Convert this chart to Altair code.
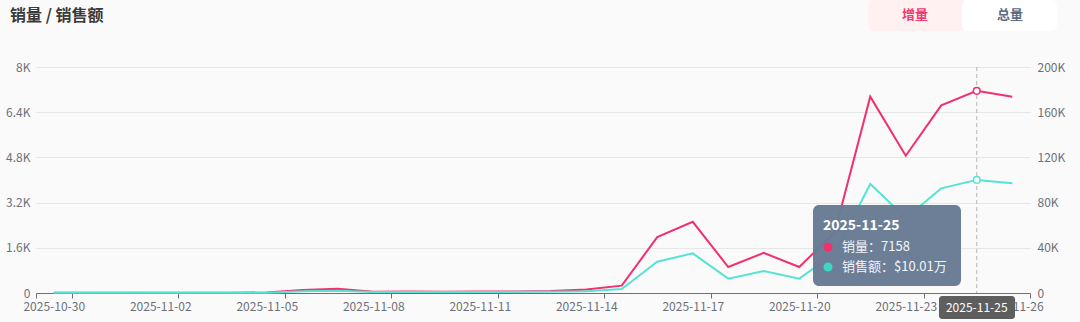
import altair as alt
import pandas as pd

# ---------------- data ----------------
dates = [
    "2025-10-30", "2025-10-31", "2025-11-01", "2025-11-02", "2025-11-03", "2025-11-04",
    "2025-11-05", "2025-11-06", "2025-11-07", "2025-11-08", "2025-11-09", "2025-11-10",
    "2025-11-11", "2025-11-12", "2025-11-13", "2025-11-14", "2025-11-15", "2025-11-16",
    "2025-11-17", "2025-11-18", "2025-11-19", "2025-11-20", "2025-11-21", "2025-11-22",
    "2025-11-23", "2025-11-24", "2025-11-25", "2025-11-26",
]
sales = [8, 10, 12, 9, 11, 10, 15, 110, 150, 45, 50, 40, 50, 55, 70, 120, 260,
         1980, 2520, 920, 1420, 920, 2150, 6950, 4860, 6640, 7158, 6950]
revenue = [200, 200, 250, 200, 250, 200, 300, 1500, 2000, 800, 900, 800, 900, 1000,
           1100, 1600, 3600, 27700, 35100, 12700, 19500, 12700, 35000, 96500, 66400,
           92600, 100100, 97100]
x_label_dates = dates[::3]
left_ticks = [0, 1600, 3200, 4800, 6400, 8000]
right_ticks = [0, 40000, 80000, 120000, 160000, 200000]
focus_date = "2025-11-25"
title_text = "销量 / 销售额"
btn_on, btn_off = "增量", "总量"
name_sales, name_rev = "销量", "销售额"

df = pd.DataFrame({"date": dates, "sales": sales, "revenue": revenue})
fi = dates.index(focus_date)
tip_l1 = f"{name_sales}：{sales[fi]}"
tip_l2 = f"{name_rev}：${revenue[fi] / 10000:.2f}万"

# ---------------- style ----------------
FONT = "Noto Sans CJK SC"
PINK = "#f2306c"
CYAN = "#56e3d4"
AXC = "#6e7079"
W, H = 994, 226

xenc = alt.X(
    "date:O",
    scale=alt.Scale(type="band", paddingInner=0, paddingOuter=0),
    axis=alt.Axis(
        values=x_label_dates, tickBand="extent", labelAngle=0, title=None, grid=False,
        domainColor=AXC, tickColor=AXC, tickSize=5, labelColor=AXC, labelFontSize=12,
        labelFont=FONT, labelPadding=3, labelOverlap=False, labelBound=False,
        labelFlush=False,
    ),
)

base = alt.Chart(df)

y_left = alt.Y(
    "sales:Q",
    scale=alt.Scale(domain=[0, 8000], nice=False),
    axis=alt.Axis(
        orient="left", values=left_ticks, title=None, domain=False, ticks=False,
        grid=True, gridColor="#e4e6ea", labelColor=AXC, labelFontSize=12, labelFont=FONT,
        labelPadding=6,
        labelExpr="datum.value == 0 ? '0' : format(datum.value / 1000, '.1~f') + 'K'",
    ),
)
y_right = alt.Y(
    "revenue:Q",
    scale=alt.Scale(domain=[0, 200000], nice=False),
    axis=alt.Axis(
        orient="right", values=right_ticks, title=None, domain=False, ticks=False,
        grid=False, labelColor=AXC, labelFontSize=12, labelFont=FONT, labelPadding=7,
        labelExpr="datum.value == 0 ? '0' : format(datum.value / 1000, '.1~f') + 'K'",
    ),
)

pink_line = base.mark_line(color=PINK, strokeWidth=2).encode(x=xenc, y=y_left)
pink_pt = base.transform_filter(alt.datum.date == focus_date).mark_point(
    shape="circle", filled=True, fill="#ffffff", stroke=PINK, strokeWidth=1.5,
    size=45, opacity=1,
).encode(x=xenc, y=y_left)
pink = alt.layer(pink_line, pink_pt)

cyan_line = base.mark_line(color=CYAN, strokeWidth=2).encode(x=xenc, y=y_right)
cyan_pt = base.transform_filter(alt.datum.date == focus_date).mark_point(
    shape="circle", filled=True, fill="#ffffff", stroke=CYAN, strokeWidth=1.5,
    size=45, opacity=1,
).encode(x=xenc, y=y_right)
cyan = alt.layer(cyan_line, cyan_pt)

focus = base.transform_filter(alt.datum.date == focus_date)
pointer_rule = focus.mark_rule(color="#b4b4b4", strokeDash=[4, 3], strokeWidth=1).encode(
    x=xenc, y=alt.value(0), y2=alt.value(H)
)

one = alt.Chart(pd.DataFrame({"k": [0]}))

# tooltip box
tip_box = one.mark_rect(fill="#687b94", cornerRadius=6, opacity=0.97).encode(
    x=alt.value(777), x2=alt.value(925), y=alt.value(138), y2=alt.value(219)
)
tip_title = one.mark_text(
    text=focus_date, font=FONT, fontSize=14, fontWeight="bold", color="#ffffff",
    align="left", baseline="middle",
).encode(x=alt.value(787), y=alt.value(159))
tip_dot1 = one.mark_point(shape="circle", filled=True, color=PINK, size=80, opacity=1).encode(
    x=alt.value(792), y=alt.value(180)
)
tip_dot2 = one.mark_point(shape="circle", filled=True, color="#3fd6c6", size=80, opacity=1).encode(
    x=alt.value(792), y=alt.value(200)
)
tip_t1 = one.mark_text(
    text=tip_l1, font=FONT, fontSize=13, color="#f2f4f7", align="left", baseline="middle"
).encode(x=alt.value(806), y=alt.value(180))
tip_t2 = one.mark_text(
    text=tip_l2, font=FONT, fontSize=13, color="#f2f4f7", align="left", baseline="middle"
).encode(x=alt.value(806), y=alt.value(200))

# axis pointer label
ptr_box = one.mark_rect(fill="#5e5e5e", cornerRadius=3).encode(
    x=alt.value(903), x2=alt.value(979), y=alt.value(229), y2=alt.value(252)
)
ptr_text = focus.mark_text(
    font=FONT, fontSize=12, color="#ffffff", align="center", baseline="middle"
).encode(x=xenc, y=alt.value(241), text="date:N")

# header
title = one.mark_text(
    text=title_text, font=FONT, fontSize=16, fontWeight="bold", color="#3a3a3a",
    align="left", baseline="middle",
).encode(x=alt.value(-26), y=alt.value(-51))
btn_bg_on = one.mark_rect(fill="#fff0f2", cornerRadius=6).encode(
    x=alt.value(832), x2=alt.value(930), y=alt.value(-67), y2=alt.value(-36)
)
btn_bg_off = one.mark_rect(fill="#ffffff", cornerRadius=6).encode(
    x=alt.value(926), x2=alt.value(1021), y=alt.value(-67), y2=alt.value(-36)
)
btn_t_on = one.mark_text(
    text=btn_on, font=FONT, fontSize=13, fontWeight="bold", color="#f2386c",
    align="center", baseline="middle",
).encode(x=alt.value(879), y=alt.value(-52))
btn_t_off = one.mark_text(
    text=btn_off, font=FONT, fontSize=13, fontWeight="bold", color="#5d6b82",
    align="center", baseline="middle",
).encode(x=alt.value(974), y=alt.value(-52))

chart = alt.layer(
    pointer_rule, pink, cyan,
    tip_box, tip_title, tip_dot1, tip_dot2, tip_t1, tip_t2,
    ptr_box, ptr_text,
    title, btn_bg_on, btn_bg_off, btn_t_on, btn_t_off,
).resolve_scale(y="independent").properties(
    width=W, height=H,
    autosize=alt.AutoSizeParams(type="none"),
    padding={"left": 36, "top": 67, "right": 50, "bottom": 29},
).configure(background="#fafafa").configure_view(stroke=None)

chart.save("out.html", embed_options={"renderer": "svg", "actions": False})
